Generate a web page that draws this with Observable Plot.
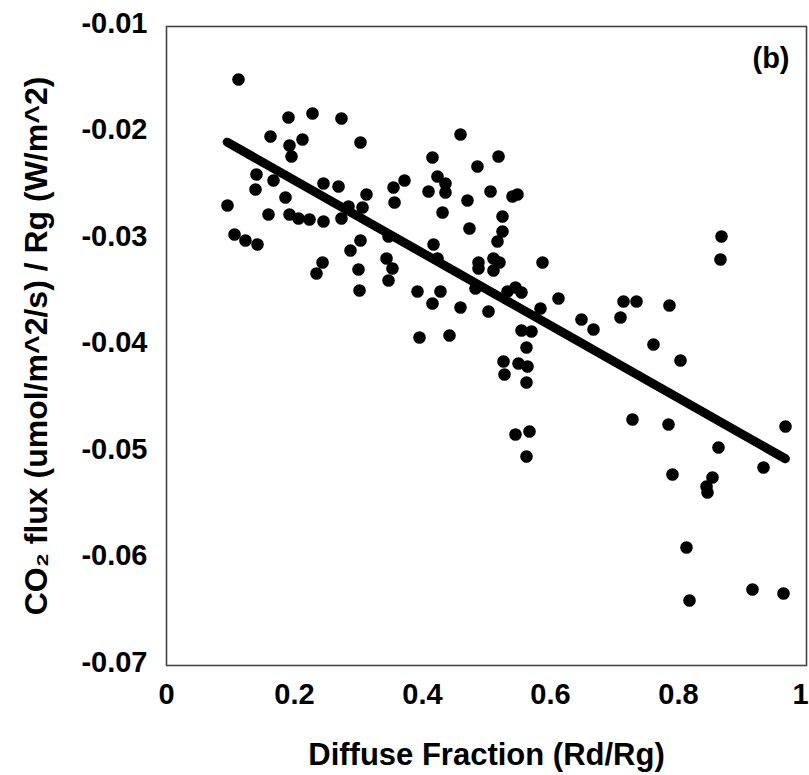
<!DOCTYPE html>
<html>
<head>
<meta charset="utf-8">
<script src="https://cdn.jsdelivr.net/npm/d3@7"></script>
<script src="https://cdn.jsdelivr.net/npm/@observablehq/plot@0.6"></script>
<style>
  html, body { margin: 0; padding: 0; background: #fff; }
</style>
</head>
<body>
<div id="chart"></div>
<script>
const diffuseFraction = [
  0.0953, 0.1125, 0.1063, 0.1234, 0.1422, 0.1406, 0.1391, 0.1625, 0.1672, 0.1594,
  0.1859, 0.1906, 0.2281, 0.2734, 0.1922, 0.1953, 0.2125, 0.1922, 0.2063, 0.2234,
  0.2453, 0.2438, 0.2344, 0.2453, 0.2688, 0.2734, 0.2844, 0.3063, 0.3031, 0.3125,
  0.3031, 0.2875, 0.3000, 0.3016, 0.3547, 0.3719, 0.3563, 0.3469, 0.3438, 0.3531,
  0.3469, 0.3922, 0.4281, 0.4156, 0.4594, 0.3953, 0.4422, 0.4172, 0.4234, 0.4156,
  0.4234, 0.4359, 0.4359, 0.4094, 0.4594, 0.4703, 0.4859, 0.4313, 0.4734, 0.4828,
  0.4875, 0.4875, 0.5188, 0.5063, 0.5406, 0.5484, 0.5250, 0.5250, 0.5172, 0.5109,
  0.5203, 0.5109, 0.5875, 0.5453, 0.5547, 0.5328, 0.5844, 0.6125, 0.5031, 0.5547,
  0.5703, 0.5625, 0.5266, 0.5281, 0.5500, 0.5641, 0.5625, 0.5453, 0.5672, 0.5625,
  0.6484, 0.6672, 0.7141, 0.7344, 0.7094, 0.7859, 0.7609, 0.8031, 0.7281, 0.7844,
  0.7906, 0.8672, 0.8656, 0.8625, 0.8531, 0.8438, 0.8453, 0.9328, 0.9672, 0.8125,
  0.8172, 0.9156, 0.9641
];
const co2FluxPerRg = [
  -0.02681, -0.01498, -0.02953, -0.03009, -0.03047, -0.02390, -0.02531, -0.02033, -0.02446, -0.02765,
  -0.02606, -0.01854, -0.01817, -0.01864, -0.02117, -0.02221, -0.02061, -0.02765, -0.02803, -0.02812,
  -0.02831, -0.03216, -0.03319, -0.02474, -0.02502, -0.02803, -0.02690, -0.02700, -0.02089, -0.02577,
  -0.03009, -0.03103, -0.03282, -0.03479, -0.02512, -0.02446, -0.02653, -0.02972, -0.03178, -0.03272,
  -0.03385, -0.03488, -0.03488, -0.03601, -0.03638, -0.03920, -0.03901, -0.03047, -0.03178, -0.02230,
  -0.02408, -0.02474, -0.02559, -0.02549, -0.02014, -0.02634, -0.02315, -0.02746, -0.02897, -0.03460,
  -0.03216, -0.03272, -0.02221, -0.02549, -0.02596, -0.02577, -0.02784, -0.02925, -0.03019, -0.03178,
  -0.03216, -0.03291, -0.03216, -0.03451, -0.03498, -0.03488, -0.03648, -0.03554, -0.03676, -0.03854,
  -0.03864, -0.04014, -0.04146, -0.04268, -0.04164, -0.04192, -0.04343, -0.04831, -0.04803, -0.05038,
  -0.03751, -0.03845, -0.03582, -0.03582, -0.03732, -0.03620, -0.03986, -0.04136, -0.04690, -0.04737,
  -0.05207, -0.02972, -0.03188, -0.04953, -0.05235, -0.05319, -0.05376, -0.05141, -0.04756, -0.05892,
  -0.06390, -0.06286, -0.06324
];
const fitX = [0.0948, 0.967];
const fitY = [-0.02086, -0.05059];

const xTicks = [0, 0.2, 0.4, 0.6, 0.8];
const xTickLabels = ["0", "0.2", "0.4", "0.6", "0.8"];
const xLastTick = [1];
const xLastTickLabel = ["1"];
const yTicks = [-0.07, -0.06, -0.05, -0.04, -0.03, -0.02, -0.01];
const yTickLabels = ["-0.07", "-0.06", "-0.05", "-0.04", "-0.03", "-0.02", "-0.01"];

const xTitle = "Diffuse Fraction (Rd/Rg)";
const yTitle = "CO\u2082 flux (umol/m^2/s) / Rg (W/m^2)";
const panelLabel = "(b)";

const points = diffuseFraction.map((x, i) => ({x, y: co2FluxPerRg[i]}));
const fit = fitX.map((x, i) => ({x, y: fitY[i]}));

const font = "'Liberation Sans', Arial, sans-serif";

const chart = Plot.plot({
  width: 809,
  height: 775,
  marginLeft: 166,
  marginRight: 3,
  marginTop: 26,
  marginBottom: 110,
  style: {fontFamily: font, fontSize: "29px", fontWeight: "bold", color: "#000", background: "#fff"},
  x: {domain: [0, 1]},
  y: {domain: [-0.07, -0.01]},
  marks: [
    Plot.axisX({ticks: xTicks, tickSize: 0, tickPadding: 18, tickFormat: (d, i) => xTickLabels[i], label: null, fontSize: 29, fontWeight: "bold", fill: "#000"}),
    Plot.axisX({ticks: xLastTick, tickSize: 0, tickPadding: 18, dx: -6, tickFormat: (d, i) => xLastTickLabel[i], label: null, fontSize: 29, fontWeight: "bold", fill: "#000"}),
    Plot.axisY({ticks: yTicks, tickSize: 0, tickPadding: 19, dy: -3, tickFormat: (d, i) => yTickLabels[i], label: null, fontSize: 29, fontWeight: "bold", fill: "#000"}),
    Plot.frame({stroke: "#444", strokeWidth: 1.6}),
    Plot.dot(points, {x: "x", y: "y", r: 6.3, fill: "#000", stroke: null}),
    Plot.line(fit, {x: "x", y: "y", stroke: "#000", strokeWidth: 9}),
    Plot.text([panelLabel], {frameAnchor: "top-right", dx: -17, dy: 21, textAnchor: "end", lineAnchor: "top", fontSize: 29, fontWeight: "bold", fill: "#000"}),
    Plot.text([xTitle], {frameAnchor: "bottom", dy: 90, lineAnchor: "middle", fontSize: 31, fontWeight: "bold", fill: "#000"}),
    Plot.text([yTitle], {frameAnchor: "left", dx: -130, rotate: -90, lineAnchor: "middle", textAnchor: "middle", fontSize: 32, fontWeight: "bold", fill: "#000"})
  ]
});
document.getElementById("chart").appendChild(chart);
</script>
</body>
</html>
